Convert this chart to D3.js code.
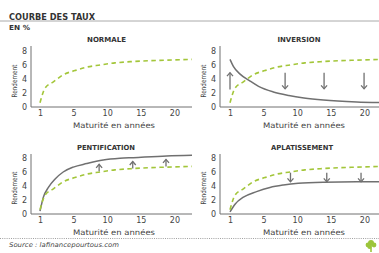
<!DOCTYPE html>
<html><head><meta charset="utf-8">
<script src="https://cdn.jsdelivr.net/npm/d3@7/dist/d3.min.js"></script>
<style>body{margin:0;background:#fff}svg{display:block}text{font-family:"DejaVu Sans","Liberation Sans",Arial,sans-serif}</style>
</head><body><svg id="c" width="379" height="253"></svg>
<script>
// ---- data ----
const xTickLabels = ["1","5","10","15","20"];
const yTicks = [0,2,4,6,8];
const panelTitles = ["NORMALE","INVERSION","PENTIFICATION","APLATISSEMENT"];
// maturity positions expressed in tick steps (0 = "1", 1 = "5", 2 = "10", 3 = "15", 4 = "20")
const normalX = [0, 0.15, 0.4, 0.69, 1.04, 1.39, 1.79, 2.23, 2.77, 3.77, 4.52];
const normalY = [0.6, 2.7, 3.6, 4.6, 5.2, 5.7, 6.0, 6.3, 6.5, 6.7, 6.8];
const inversionX = [0, 0.1, 0.3, 0.6, 0.85, 1.29, 1.75, 2.2, 2.78, 3.77, 4.5];
const inversionY = [6.8, 5.8, 4.7, 3.7, 2.95, 2.15, 1.65, 1.3, 1.0, 0.72, 0.62];
const pentifX = [0, 0.1, 0.25, 0.45, 0.69, 0.99, 1.39, 1.88, 2.38, 2.78, 3.77, 4.56];
const pentifY = [0.4, 2.4, 3.8, 5.0, 6.0, 6.7, 7.2, 7.7, 7.95, 8.05, 8.3, 8.4];
const aplatX = [0, 0.15, 0.4, 0.79, 1.19, 1.59, 2.03, 2.78, 3.77, 4.46];
const aplatY = [0.3, 1.4, 2.4, 3.2, 3.8, 4.15, 4.4, 4.55, 4.6, 4.6];
// arrows: position, from value, to value
const inversionArrowX = [0, 1.64, 2.8, 3.99];
const inversionArrowFrom = [2.5, 4.9, 4.9, 4.9];
const inversionArrowTo = [4.9, 2.6, 2.6, 2.6];
const pentifArrowX = [1.76, 2.76, 3.75];
const pentifArrowFrom = [6.1, 6.5, 6.8];
const pentifArrowTo = [7.1, 7.5, 7.8];
const aplatArrowX = [1.8, 2.88, 3.9];
const aplatArrowFrom = [5.9, 5.9, 5.9];
const aplatArrowTo = [4.6, 4.6, 4.6];

const GREEN = "#a3c63a", GRAY = "#707070", TXT = "#444";
const svg = d3.select("#c");

// header
svg.append("text").attr("x",9).attr("y",19.5).attr("font-size",9).attr("font-weight","bold").attr("fill","#333")
  .attr("textLength",86).attr("lengthAdjust","spacingAndGlyphs").text("COURBE DES TAUX");
svg.append("line").attr("x1",0).attr("x2",379).attr("y1",21).attr("y2",21).attr("stroke","#aaa").attr("stroke-width",1);
svg.append("text").attr("x",9).attr("y",30).attr("font-size",7).attr("font-weight","bold").attr("fill","#333")
  .attr("textLength",21).attr("lengthAdjust","spacingAndGlyphs").text("EN %");

const layouts = [
  {ax:31, x1:40, yb:107, yt:51, top:46, tc:106.5, tw:39},
  {ax:220, x1:230, yb:107, yt:51, top:46, tc:299, tw:43},
  {ax:31, x1:40, yb:214, yt:158, top:154, tc:106, tw:58},
  {ax:220, x1:230, yb:214, yt:158, top:154, tc:302, tw:62}
];
const grayCurves = [null, [inversionX,inversionY], [pentifX,pentifY], [aplatX,aplatY]];
const arrows = [null,
  [inversionArrowX, inversionArrowFrom, inversionArrowTo],
  [pentifArrowX, pentifArrowFrom, pentifArrowTo],
  [aplatArrowX, aplatArrowFrom, aplatArrowTo]];

layouts.forEach((L,i)=>{
  const g = svg.append("g");
  const x = d3.scaleLinear().domain([0,4]).range([L.x1, L.x1+4*33.6]);
  const y = d3.scaleLinear().domain([0,8]).range([L.yb, L.yt]);
  const xEnd = Math.min(L.ax+161, 379);
  const clipId = "clip"+i;
  svg.append("clipPath").attr("id",clipId).append("rect").attr("x",L.ax).attr("y",L.top-4).attr("width",xEnd-L.ax).attr("height",L.yb-L.top+4);

  // title
  g.append("text").attr("x",L.tc).attr("y",L.top-4.5).attr("text-anchor","middle")
    .attr("font-size",7).attr("font-weight","bold").attr("fill","#333")
    .attr("textLength",L.tw).attr("lengthAdjust","spacingAndGlyphs").text(panelTitles[i]);

  // axes lines
  g.append("line").attr("x1",L.ax).attr("x2",L.ax).attr("y1",L.top).attr("y2",L.yb).attr("stroke",GRAY).attr("stroke-width",1);
  g.append("line").attr("x1",L.ax).attr("x2",xEnd).attr("y1",L.yb).attr("y2",L.yb).attr("stroke",GRAY).attr("stroke-width",1);

  // y ticks via d3 axis (no tick lines)
  const ya = d3.axisLeft(y).tickValues(yTicks).tickSize(0).tickPadding(4);
  const yg = g.append("g").attr("transform",`translate(${L.ax},0)`).call(ya);
  yg.select(".domain").remove();
  yg.selectAll("text").attr("font-size",8).attr("fill",TXT).attr("font-family","DejaVu Sans, sans-serif");

  const xa = d3.axisBottom(x).tickValues([0,1,2,3,4]).tickFormat((d,k)=>xTickLabels[k]).tickSize(0).tickPadding(3);
  const xg = g.append("g").attr("transform",`translate(0,${L.yb})`).call(xa);
  xg.select(".domain").remove();
  xg.selectAll("text").attr("font-size",8).attr("fill",TXT).attr("font-family","DejaVu Sans, sans-serif");

  // axis labels
  g.append("text").attr("x",L.x1+74).attr("y",L.yb+21).attr("text-anchor","middle")
    .attr("font-size",7.6).attr("fill",TXT).attr("textLength",82).attr("lengthAdjust","spacingAndGlyphs").text("Maturité en années");
  g.append("text").attr("transform",`translate(${L.ax-14},${(L.yb+L.yt)/2+2}) rotate(-90)`).attr("text-anchor","middle")
    .attr("font-size",7.3).attr("fill",TXT).attr("textLength",33).attr("lengthAdjust","spacingAndGlyphs").text("Rendement");

  const line = d3.line().x(d=>x(d[0])).y(d=>y(d[1])).curve(d3.curveMonotoneX);
  const cg = g.append("g").attr("clip-path",`url(#${clipId})`);
  if (grayCurves[i]) {
    const [cx,cy] = grayCurves[i];
    cg.append("path").attr("d",line(cx.map((v,k)=>[v,cy[k]]))).attr("fill","none").attr("stroke",GRAY).attr("stroke-width",1.5);
  }
  cg.append("path").attr("d",line(normalX.map((v,k)=>[v,normalY[k]]))).attr("fill","none")
    .attr("stroke",GREEN).attr("stroke-width",1.6).attr("stroke-dasharray","4.5,3.5");

  if (arrows[i]) {
    const [ax,af,at] = arrows[i];
    ax.forEach((p,k)=>{
      const px = x(p), y0 = y(af[k]), y1 = y(at[k]);
      const dir = y1 < y0 ? 1 : -1; // head pointing up if dir=1
      g.append("line").attr("x1",px).attr("x2",px).attr("y1",y0).attr("y2",y1).attr("stroke",GRAY).attr("stroke-width",1.3);
      g.append("path").attr("d",`M${px-3},${y1+dir*3.5}L${px},${y1}L${px+3},${y1+dir*3.5}`)
        .attr("fill","none").attr("stroke",GRAY).attr("stroke-width",1.3);
    });
  }
});

// footer
svg.append("line").attr("x1",0).attr("x2",379).attr("y1",238.5).attr("y2",238.5).attr("stroke","#888").attr("stroke-width",0.8).attr("stroke-dasharray","1,1.2");
svg.append("text").attr("x",9).attr("y",246.5).attr("font-size",6.5).attr("font-style","italic").attr("fill","#444")
  .attr("textLength",110).attr("lengthAdjust","spacingAndGlyphs").text("Source : lafinancepourtous.com");

// logo
const lg = svg.append("g").attr("transform","translate(371,246)").attr("fill","#9cc53b");
[[0,-3,3],[-3,-1,2.4],[3,-1,2.4],[-1.5,1,2]].forEach(c=>lg.append("circle").attr("cx",c[0]).attr("cy",c[1]).attr("r",c[2]));
lg.append("rect").attr("x",-0.8).attr("y",0).attr("width",1.6).attr("height",6);
</script></body></html>
